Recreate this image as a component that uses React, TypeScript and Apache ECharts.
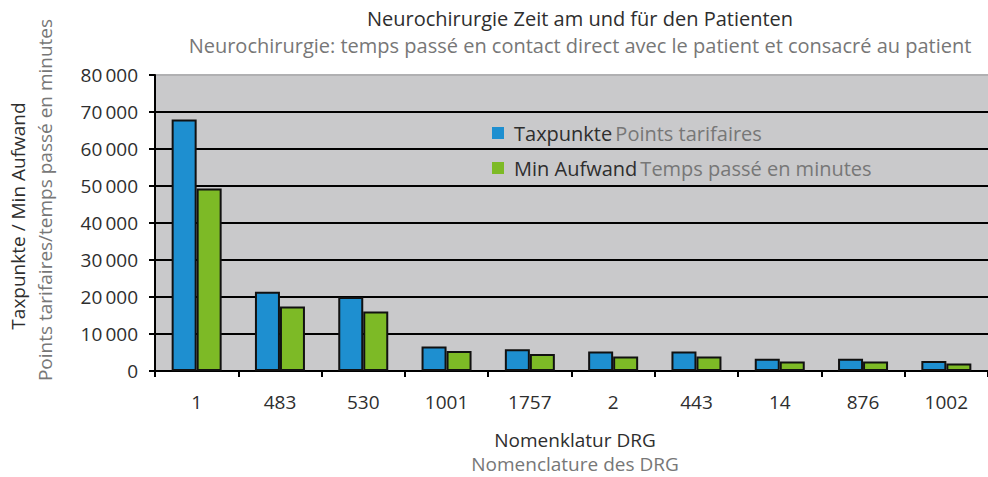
import React, { useEffect, useRef } from "react";
import * as echarts from "echarts";

const categories = ["1", "483", "530", "1001", "1757", "2", "443", "14", "876", "1002"];
const taxpunkte = [68000, 21400, 20000, 6600, 5900, 5300, 5300, 3300, 3300, 2700];
const minAufwand = [49300, 17400, 16100, 5400, 4600, 3900, 3900, 2600, 2600, 2000];
const yTicks = [0, 10000, 20000, 30000, 40000, 50000, 60000, 70000, 80000];

const FONT = "'Open Sans', 'Liberation Sans', Arial, sans-serif";
const DARK = "#2e2e2e";
const GREY = "#777777";
const FS = 19;
const FS_BIG = 20;

export default function App() {
  const ref = useRef<HTMLDivElement>(null);
  useEffect(() => {
    if (!ref.current) return;
    const chart = echarts.init(ref.current, undefined, { renderer: "svg" });
    chart.setOption({
      animation: false,
      backgroundColor: "#ffffff",
      textStyle: { fontFamily: FONT },
      title: {
        text: "Neurochirurgie Zeit am und für den Patienten",
        subtext: "Neurochirurgie: temps passé en contact direct avec le patient et consacré au patient",
        left: 575,
        textAlign: "center",
        top: 3,
        itemGap: 7,
        textStyle: { fontFamily: FONT, fontSize: FS_BIG, fontWeight: "normal", color: DARK, lineHeight: 20 },
        subtextStyle: { fontFamily: FONT, fontSize: FS_BIG, fontWeight: "normal", color: GREY, lineHeight: 20 },
      },
      legend: {
        orient: "vertical",
        left: 487,
        top: 118,
        itemWidth: 12,
        itemHeight: 12,
        itemGap: 15,
        icon: "rect",
        itemStyle: { borderWidth: 0 },
        data: ["Taxpunkte", "Min Aufwand"],
        formatter: (name: string) =>
          name === "Taxpunkte"
            ? "{a|Taxpunkte} {b|Points tarifaires}"
            : "{a|Min Aufwand} {b|Temps passé en minutes}",
        textStyle: {
          rich: {
            a: { fontFamily: FONT, fontSize: FS_BIG, color: DARK, padding: [0, 0, 0, 5] },
            b: { fontFamily: FONT, fontSize: FS_BIG, color: GREY },
          },
        },
      },
      grid: {
        left: 155,
        right: 0,
        top: 75,
        bottom: 106,
        show: true,
        backgroundColor: "#c9c9cb",
        borderWidth: 0,
      },
      xAxis: {
        type: "category",
        data: categories,
        axisLine: { lineStyle: { color: "#000", width: 2 } },
        axisTick: { show: true, length: 6, lineStyle: { color: "#000", width: 2 } },
        axisLabel: { fontFamily: FONT, fontSize: FS, color: DARK, margin: 21 },
      },
      yAxis: {
        type: "value",
        min: yTicks[0],
        max: yTicks[yTicks.length - 1],
        interval: 10000,
        axisLine: { show: true, lineStyle: { color: "#000", width: 2 } },
        axisTick: { show: true, length: 6, lineStyle: { color: "#000", width: 2 } },
        axisLabel: {
          fontFamily: FONT,
          fontSize: FS,
          color: DARK,
          margin: 17,
          formatter: (v: number) =>
            v >= 1000 ? `${Math.floor(v / 1000)}\u2009${String(v % 1000).padStart(3, "0")}` : String(v),
        },
        splitLine: {
          show: true,
          lineStyle: {
            color: ["#000", "#000", "#000", "#000", "#000", "#000", "#000", "#000", "#b0b0b2"],
            width: 2,
          },
        },
      },
      graphic: [
        {
          type: "text",
          x: 18,
          y: 216,
          rotation: Math.PI / 2,
          style: {
            text: "Taxpunkte / Min Aufwand",
            fontFamily: FONT,
            fontSize: FS,
            fill: DARK,
            align: "center",
            verticalAlign: "middle",
          },
        },
        {
          type: "text",
          x: 45,
          y: 200,
          rotation: Math.PI / 2,
          style: {
            text: "Points tarifaires/temps passé en minutes",
            fontFamily: FONT,
            fontSize: FS,
            fill: GREY,
            align: "center",
            verticalAlign: "middle",
          },
        },
        {
          type: "text",
          x: 575,
          y: 440,
          style: {
            text: "Nomenklatur DRG",
            fontFamily: FONT,
            fontSize: FS,
            fill: DARK,
            align: "center",
            verticalAlign: "middle",
          },
        },
        {
          type: "text",
          x: 575,
          y: 464,
          style: {
            text: "Nomenclature des DRG",
            fontFamily: FONT,
            fontSize: FS,
            fill: GREY,
            align: "center",
            verticalAlign: "middle",
          },
        },
      ],
      series: [
        {
          name: "Taxpunkte",
          type: "bar",
          data: taxpunkte,
          barWidth: 25,
          barGap: "0%",
          itemStyle: { color: "#1e8fd0", borderColor: "#111", borderWidth: 2 },
        },
        {
          name: "Min Aufwand",
          type: "bar",
          data: minAufwand,
          barWidth: 25,
          itemStyle: { color: "#7dba26", borderColor: "#111", borderWidth: 2 },
        },
      ],
    });
    return () => chart.dispose();
  }, []);
  return (
    <div
      ref={ref}
      style={{ position: "absolute", left: 0, top: 0, width: 988, height: 477 }}
    />
  );
}
